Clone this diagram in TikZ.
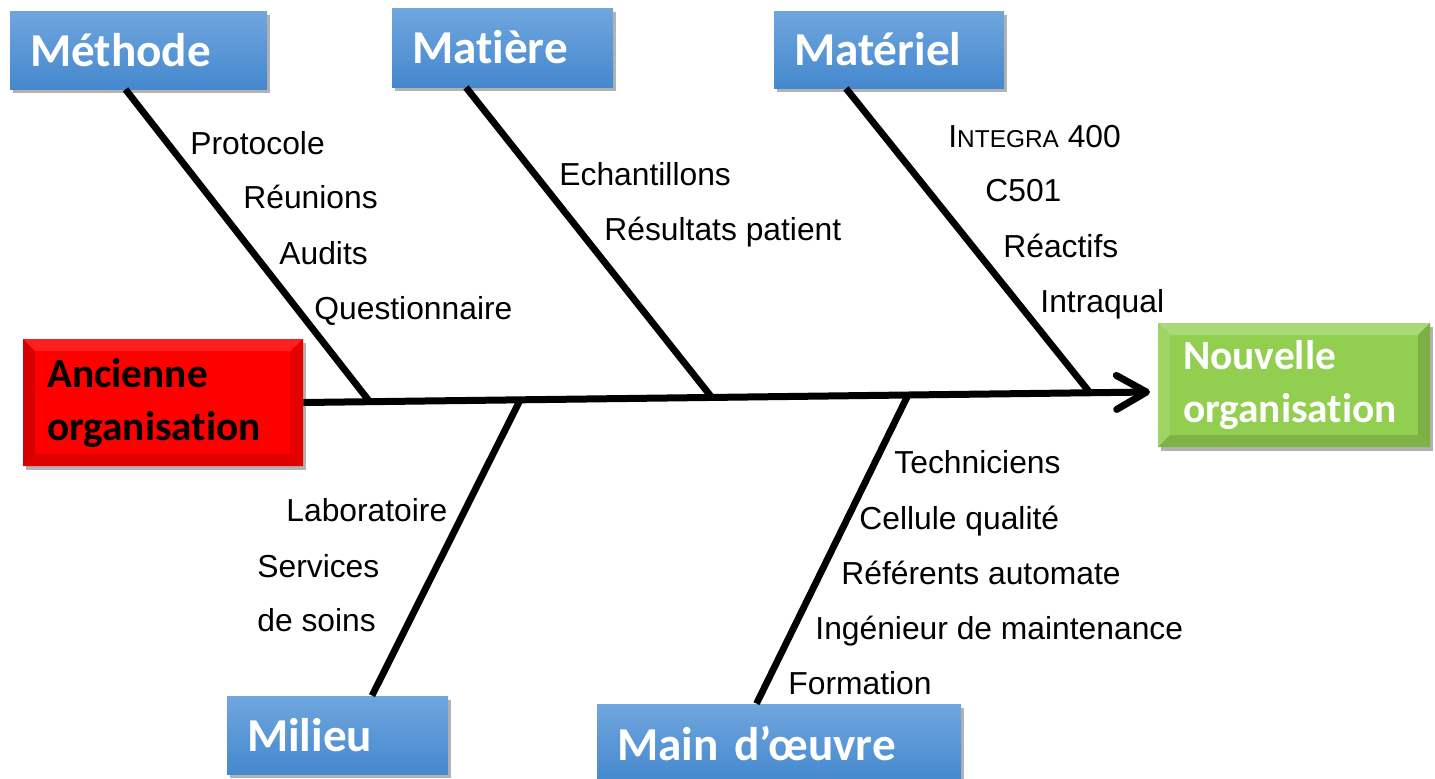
\documentclass[tikz,border=0pt]{standalone}
\usepackage{fontspec}
\setmainfont{Liberation Sans}
\newfontfamily\boxfont[Ligatures=NoCommon]{Carlito}
\usepackage{tikz}
\usetikzlibrary{arrows.meta,shadows}
\usepackage{xcolor}
\definecolor{boxtop}{RGB}{112, 166, 222}
\definecolor{boxbot}{RGB}{68, 136, 206}
\definecolor{oldred}{RGB}{255, 0, 0}
\definecolor{newgreen}{RGB}{146, 206, 80}

\tikzset{
  cat/.style={rectangle, top color=boxtop, bottom color=boxbot, text=white,
    minimum height=39pt, inner xsep=10pt, align=left,
    font=\boxfont\bfseries\fontsize{23.6}{28}\selectfont,
    drop shadow={shadow xshift=1.5pt, shadow yshift=-2pt, fill=black, opacity=0.3}},
  state/.style={rectangle, inner xsep=12pt, align=left,
    font=\boxfont\bfseries\fontsize{20.7}{26.5}\selectfont,
    drop shadow={shadow xshift=1.5pt, shadow yshift=-2pt, fill=black, opacity=0.3}},
  bevel/.style n args={4}{path picture={
    \fill[#1] (path picture bounding box.north west) -- (path picture bounding box.north east)
      -- ([shift={(-6pt,-6pt)}]path picture bounding box.north east)
      -- ([shift={(6pt,-6pt)}]path picture bounding box.north west) -- cycle;
    \fill[#2] (path picture bounding box.north west) -- (path picture bounding box.south west)
      -- ([shift={(6pt,6pt)}]path picture bounding box.south west)
      -- ([shift={(6pt,-6pt)}]path picture bounding box.north west) -- cycle;
    \fill[#3] (path picture bounding box.north east) -- (path picture bounding box.south east)
      -- ([shift={(-6pt,6pt)}]path picture bounding box.south east)
      -- ([shift={(-6pt,-6pt)}]path picture bounding box.north east) -- cycle;
    \fill[#4] (path picture bounding box.south west) -- (path picture bounding box.south east)
      -- ([shift={(-6pt,6pt)}]path picture bounding box.south east)
      -- ([shift={(6pt,6pt)}]path picture bounding box.south west) -- cycle;}},
  cause/.style={anchor=base west, inner sep=0pt, font=\fontsize{15.9}{19}\selectfont},
  bone/.style={line width=3.4pt}
}

\begin{document}
\begin{tikzpicture}[x=0.5pt, y=-0.5pt]
    \useasboundingbox (0,0) rectangle (1435,778);
    \clip (0,0) rectangle (1435,778);

    % Start and goal
    \node[state, fill=oldred, bevel={red!88!white}{red!84!black}{red!90!black}{red!88!black},
      minimum width=140pt, minimum height=63.5pt, text width=116pt] (ancienne) at (163,402.5)
      {Ancienne\\organisation};
    \node[state, fill=newgreen, text=white, inner xsep=12.5pt,
      bevel={newgreen!78!white}{newgreen!88!white}{newgreen!85!black}{newgreen!87!black},
      minimum width=136pt, minimum height=62pt, text width=111pt] (nouvelle) at (1294,385)
      {Nouvelle\\organisation};

    % Spine
    \coordinate (tip) at (1150,392);
    \coordinate (jme) at (370,402.1);
    \coordinate (jma) at (712,397.7);
    \coordinate (jmt) at (1090,392.8);
    \coordinate (jmi) at (520,400.2);
    \coordinate (jmo) at (908,395.1);

    % Categories
    \node[cat, text width=108.5pt] (methode) at (138.5,50) {Méthode};
    \node[cat, text width=90.5pt, minimum height=39.5pt] (matiere) at (502.5,47.5) {Matière};
    \node[cat, text width=95pt, minimum height=38.5pt] (materiel) at (889,49.5) {Matériel};
    \node[cat, text width=90.5pt] (milieu) at (337.5,735) {Milieu};
    \node[cat, text width=162pt] (main) at (779,743) {Main d’œuvre};

    % Bones
    \draw[bone] ([xshift=-6.5pt]methode.south) -- (jme);
    \draw[bone] ([xshift=-18.25pt]matiere.south) -- (jma);
    \draw[bone] ([xshift=-21.5pt]materiel.south) -- (jmt);
    \draw[bone] (jmi) -- ([xshift=17.25pt]milieu.north);
    \draw[bone] (jmo) -- ([xshift=-11.25pt]main.north);
    \draw[line width=3.5pt, -{Straight Barb[length=15pt, width=17pt, round]}] (ancienne.east) -- (tip);

    % Causes
    \node[cause] (c1) at (190,154) {Protocole};
    \node[cause] (c2) at (243,208) {Réunions};
    \node[cause] (c3) at (279,264) {Audits};
    \node[cause] (c4) at (314,319) {Questionnaire};

    \node[cause] (c5) at (559,185) {Echantillons};
    \node[cause] (c6) at (604,240) {Résultats patient};

    \node[cause] (c7) at (948,147) {I{\fontsize{12.2}{15}\selectfont NTEGRA} 400};
    \node[cause] (c8) at (985,201) {C501};
    \node[cause] (c9) at (1003,257) {Réactifs};
    \node[cause] (c10) at (1040,312) {Intraqual};

    \node[cause] (c11) at (286,521) {Laboratoire};
    \node[cause] (c12) at (257,577) {Services};
    \node[cause] (c13) at (257,631) {de soins};

    \node[cause] (c14) at (894,473) {Techniciens};
    \node[cause] (c15) at (859,529) {Cellule qualité};
    \node[cause] (c16) at (841,584) {Référents automate};
    \node[cause] (c17) at (815,639) {Ingénieur de maintenance};
    \node[cause] (c18) at (788,694) {Formation};
\end{tikzpicture}
\end{document}
